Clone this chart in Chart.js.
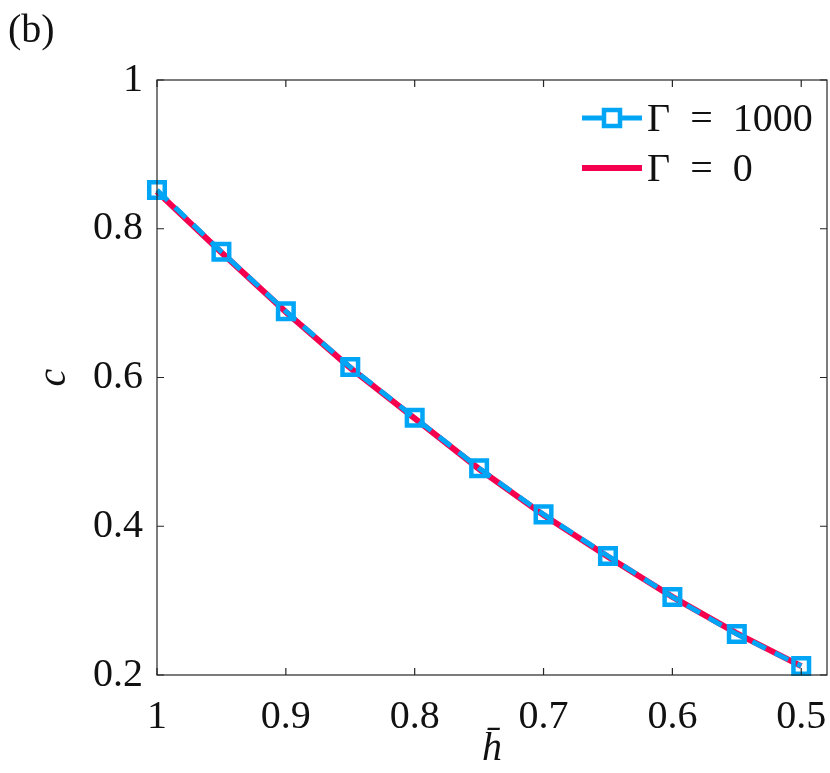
<!DOCTYPE html>
<html>
<head>
<meta charset="utf-8">
<script src="https://cdn.jsdelivr.net/npm/chart.js@4"></script>
<style>
  html, body { margin: 0; padding: 0; background: #fff; }
  #wrap { width: 830px; height: 773px; position: relative; }
</style>
</head>
<body>
<div id="wrap"><canvas id="cChart"></canvas></div>
<script>
// data
const hbar = [1, 0.95, 0.9, 0.85, 0.8, 0.75, 0.7, 0.65, 0.6, 0.55, 0.5];
const cG1000 = [0.852, 0.769, 0.689, 0.614, 0.546, 0.478, 0.416, 0.360, 0.305, 0.255, 0.212];
const cG0 = [0.850, 0.768, 0.688, 0.613, 0.545, 0.477, 0.415, 0.359, 0.305, 0.256, 0.212];
const xTicks = [1, 0.9, 0.8, 0.7, 0.6, 0.5];
const yTicks = [0.2, 0.4, 0.6, 0.8, 1];

const BLUE = '#00a6f5';
const RED = '#f5004f';
const AXIS = '#262626';
const SERIF = '"Liberation Serif"';
const FS = 40;

Chart.defaults.font.family = SERIF;
Chart.defaults.font.size = FS;

function pts(xs, ys) {
  return xs.map((x, i) => ({ x: x, y: ys[i] }));
}

// box, inward ticks, legend and panel label
const decor = {
  id: 'decor',
  afterDraw(chart) {
    const { ctx, chartArea: a, scales } = chart;
    ctx.save();
    ctx.strokeStyle = AXIS;
    ctx.lineWidth = 1.2;
    ctx.strokeRect(a.left, a.top, a.right - a.left, a.bottom - a.top);
    const tl = 7;
    ctx.beginPath();
    xTicks.forEach(v => {
      const px = scales.x.getPixelForValue(v);
      ctx.moveTo(px, a.bottom); ctx.lineTo(px, a.bottom - tl);
      ctx.moveTo(px, a.top); ctx.lineTo(px, a.top + tl);
    });
    yTicks.forEach(v => {
      const py = scales.y.getPixelForValue(v);
      ctx.moveTo(a.left, py); ctx.lineTo(a.left + tl, py);
      ctx.moveTo(a.right, py); ctx.lineTo(a.right - tl, py);
    });
    ctx.stroke();

    // legend
    const lx0 = 582, lx1 = 642, tx = 647;
    const rows = [118, 168];
    ctx.font = FS + 'px ' + SERIF;
    ctx.textBaseline = 'middle';
    ctx.strokeStyle = BLUE;
    ctx.lineWidth = 5;
    ctx.beginPath();
    ctx.moveTo(lx0, rows[0]); ctx.lineTo(lx1, rows[0]);
    ctx.stroke();
    ctx.fillStyle = '#fff';
    ctx.fillRect(612 - 8, rows[0] - 8, 16, 16);
    ctx.lineWidth = 4.5;
    ctx.strokeRect(612 - 8, rows[0] - 8, 16, 16);
    ctx.fillStyle = '#111';
    ctx.fillText('\u0393\u2002=\u20021000', tx, rows[0] + 2);
    ctx.strokeStyle = RED;
    ctx.lineWidth = 6;
    ctx.beginPath();
    ctx.moveTo(lx0, rows[1]); ctx.lineTo(lx1, rows[1]);
    ctx.stroke();
    ctx.fillText('\u0393\u2002=\u20020', tx, rows[1] + 2);

    // panel label
    ctx.textBaseline = 'alphabetic';
    ctx.fillText('(b)', 8, 42);
    ctx.restore();
  }
};

new Chart(document.getElementById('cChart').getContext('2d'), {
  type: 'scatter',
  data: {
    datasets: [
      {
        label: '\u0393 = 0',
        data: pts(hbar, cG0),
        showLine: true,
        borderColor: RED,
        borderWidth: 6,
        pointRadius: 0,
        tension: 0,
        clip: false,
        order: 2
      },
      {
        label: '\u0393 = 1000',
        data: pts(hbar, cG1000),
        showLine: true,
        borderColor: BLUE,
        borderWidth: 5,
        borderDash: [15, 10],
        pointStyle: 'rect',
        pointRadius: 11,
        pointBorderWidth: 4.5,
        pointBorderColor: BLUE,
        pointBackgroundColor: 'rgba(0,0,0,0)',
        tension: 0,
        clip: false,
        order: 1
      }
    ]
  },
  options: {
    responsive: true,
    maintainAspectRatio: false,
    animation: false,
    devicePixelRatio: 1,
    layout: { autoPadding: false, padding: { top: 80, right: 3, left: 0, bottom: 0 } },
    plugins: {
      legend: { display: false },
      tooltip: { enabled: false }
    },
    scales: {
      x: {
        type: 'linear',
        reverse: true,
        min: 0.48,
        max: 1,
        afterBuildTicks: s => { s.ticks = xTicks.map(v => ({ value: v })); },
        afterFit: s => { s.height = 98; s.paddingLeft = 0; s.paddingRight = 0; },
        grid: { display: false, drawTicks: false },
        border: { display: false },
        ticks: {
          color: '#111',
          padding: 18,
          font: { family: SERIF, size: FS },
          callback: v => String(v)
        },
        title: {
          display: true,
          text: 'h\u0304',
          color: '#111',
          padding: { top: 0, bottom: 0 },
          font: { family: SERIF, size: FS, style: 'italic' }
        }
      },
      y: {
        min: 0.2,
        max: 1,
        afterBuildTicks: s => { s.ticks = yTicks.map(v => ({ value: v })); },
        afterFit: s => { s.width = 157; s.paddingTop = 0; s.paddingBottom = 0; },
        grid: { display: false, drawTicks: false },
        border: { display: false },
        ticks: {
          color: '#111',
          padding: 14,
          font: { family: SERIF, size: FS },
          callback: v => String(v)
        },
        title: {
          display: true,
          text: 'c',
          color: '#111',
          padding: { top: 30, bottom: 0 },
          font: { family: SERIF, size: FS, style: 'italic' }
        }
      }
    }
  },
  plugins: [decor]
});
</script>
</body>
</html>
